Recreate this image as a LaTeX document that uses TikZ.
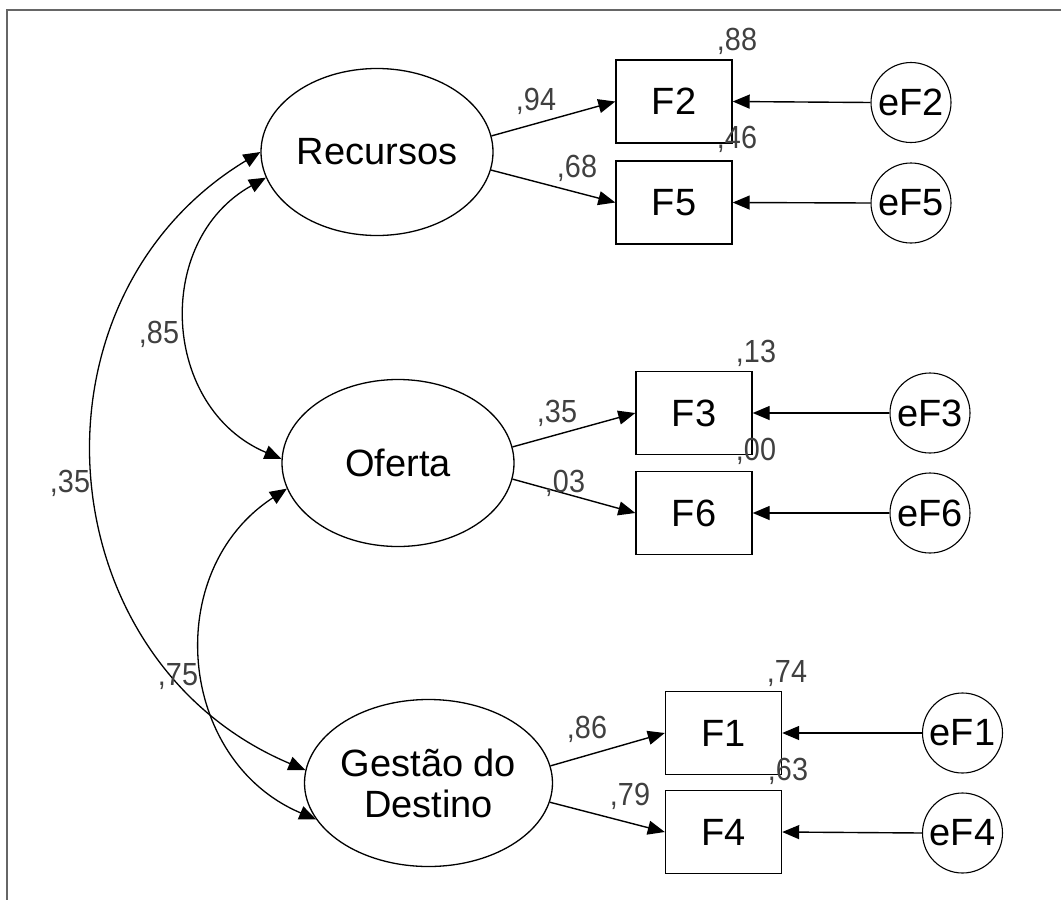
\documentclass[tikz,border=0pt]{standalone}
\usepackage{fontspec}
\setmainfont{Liberation Sans}
\newfontfamily\lblfont[FakeStretch=0.9]{Liberation Sans}
\usetikzlibrary{arrows.meta,shapes.geometric}
\tikzset{
  lat/.style={draw, ellipse, line width=1.3pt, minimum width=232pt, minimum height=167pt, inner sep=0pt,
    font=\fontsize{38}{41}\selectfont, align=center},
  obs/.style={draw, rectangle, line width=1.4pt, minimum width=116pt, minimum height=83pt, inner sep=0pt,
    font=\fontsize{38}{41}\selectfont},
  err/.style={draw, circle, line width=1.1pt, minimum size=80pt, inner sep=0pt,
    font=\fontsize{38}{41}\selectfont},
  lbl/.style={anchor=base, inner sep=0pt, text=black!75, font=\lblfont\fontsize{32}{34}\selectfont},
  arr/.style={line width=1.4pt, -{Triangle[length=17pt,width=14pt]}},
  dbl/.style={line width=1.3pt, {Triangle[length=17pt,width=14pt]}-{Triangle[length=17pt,width=14pt]}},
  frameline/.style={line width=1.5pt, draw=black!60}
}
\begin{document}
\begin{tikzpicture}[x=1pt,y=-1pt]
\useasboundingbox (0,0) rectangle (1061,900);
\coordinate (fb) at (7,900);
\coordinate (fc) at (7,10);
\coordinate (fr) at (1061,10);
\draw[frameline] (fb) -- (fc) -- (fr);

% latent variables
\node[lat] (rec) at (377,152) {Recursos};
\node[lat] (ofe) at (398,463) {Oferta};
\node[lat] (gest) at (428.5,783) {Gestão do\\Destino};

% observed
\node[obs] (F2) at (674,101.5) {F2};
\node[obs] (F5) at (674,202.5) {F5};
\node[obs] (F3) at (694,413) {F3};
\node[obs] (F6) at (694,513) {F6};
\node[obs] (F1) at (723.5,733) {F1};
\node[obs] (F4) at (723.5,832) {F4};

% errors
\node[err] (eF2) at (911,102.5) {eF2};
\node[err] (eF5) at (911,203) {eF5};
\node[err] (eF3) at (930,413) {eF3};
\node[err] (eF6) at (930,513) {eF6};
\node[err] (eF1) at (962.5,733) {eF1};
\node[err] (eF4) at (962.5,833) {eF4};

% loadings
\draw[arr] (rec.8) -- (F2.west);
\draw[arr] (rec.-9) -- (F5.west);
\draw[arr] (ofe.8) -- (F3.west);
\draw[arr] (ofe.-8) -- (F6.west);
\draw[arr] (gest.8) -- (F1.west);
\draw[arr] (gest.-9) -- (F4.west);

% error arrows
\draw[arr] (eF2.west) -- (F2.east);
\draw[arr] (eF5.west) -- (F5.east);
\draw[arr] (eF3.west) -- (F3.east);
\draw[arr] (eF6.west) -- (F6.east);
\draw[arr] (eF1.west) -- (F1.east);
\draw[arr] (eF4.west) -- (F4.east);

% covariances
\draw[dbl] (rec.180) to[bend right=63, looseness=1.17] (gest.174);
\draw[dbl] (rec.193) to[bend right=64, looseness=1.18] (ofe.178);
\draw[dbl] (ofe.193) to[bend right=62, looseness=1.16] (gest.198);

% labels
\node[lbl] (l88) at (737,50) {,88};
\node[lbl] (l46) at (737,148) {,46};
\node[lbl] (l94) at (536,110) {,94};
\node[lbl] (l68) at (577,177) {,68};
\node[lbl] (l13) at (756,362) {,13};
\node[lbl] (l00) at (756,460) {,00};
\node[lbl] (l35a) at (557,422) {,35};
\node[lbl] (l03) at (565,492) {,03};
\node[lbl] (l74) at (787,682) {,74};
\node[lbl] (l63) at (788,780) {,63};
\node[lbl] (l86) at (587,738) {,86};
\node[lbl] (l79) at (630,805) {,79};
\node[lbl] (l85) at (159,343) {,85};
\node[lbl] (l35b) at (70,492) {,35};
\node[lbl] (l75) at (178,685) {,75};
\end{tikzpicture}
\end{document}
